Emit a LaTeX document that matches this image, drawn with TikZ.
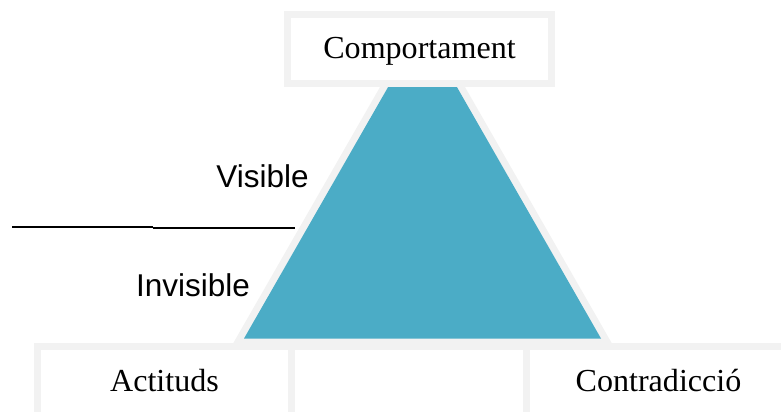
\documentclass[tikz,border=0pt]{standalone}
\usepackage{fontspec}
\setmainfont{Liberation Serif}
\newfontfamily\etiqueta{Liberation Sans}
\definecolor{turquesa}{HTML}{4BACC6}
\definecolor{gris}{HTML}{F2F2F2}

\begin{document}
\begin{tikzpicture}[x=0.025cm,y=-0.025cm,
        caja/.style={draw=gris, fill=white, line width=5pt},
        texto/.style={anchor=base, inner sep=0pt, font=\fontsize{22.8pt}{27pt}\selectfont},
        lado/.style={anchor=base, inner sep=0pt, font=\etiqueta\fontsize{22.4pt}{27pt}\selectfont}] %Triangulo con cajas de texto
            \useasboundingbox (0,0) rectangle (781,412);

            \coordinate (A) at (244,338.5);
            \coordinate (B) at (601,338.5);
            \coordinate (C) at (422.5,27);

            \coordinate (D) at (12,226.8);
            \coordinate (E) at (153,226.8);
            \coordinate (F) at (153,228.2);
            \coordinate (G) at (295,228.2);

            \draw[gris, line width=10pt] (A) -- (B) -- (C) -- cycle;
            \fill[turquesa] (A) -- (B) -- (C) -- cycle;

            \draw[caja] (287.5,14.5) rectangle (551.5,83.5);
            \draw[caja] (37.5,346.5) rectangle (291.5,415.5);
            \draw[caja] (291.5,346.5) rectangle (526.5,415.5);
            \draw[caja] (526.5,346.5) rectangle (790.5,415.5);

            \draw[line width=1.05pt] (D) -- (E);
            \draw[line width=1.05pt] (F) -- (G);

            \node[texto] (comp) at (419.5,59) {Comportament};
            \node[texto] (act) at (164.5,391) {Actituds};
            \node[texto] (contr) at (658.5,391) {Contradicció};

            \node[lado] (vis) at (262.5,188) {Visible};
            \node[lado] (invis) at (193,296) {Invisible};
        \end{tikzpicture}
\end{document}
